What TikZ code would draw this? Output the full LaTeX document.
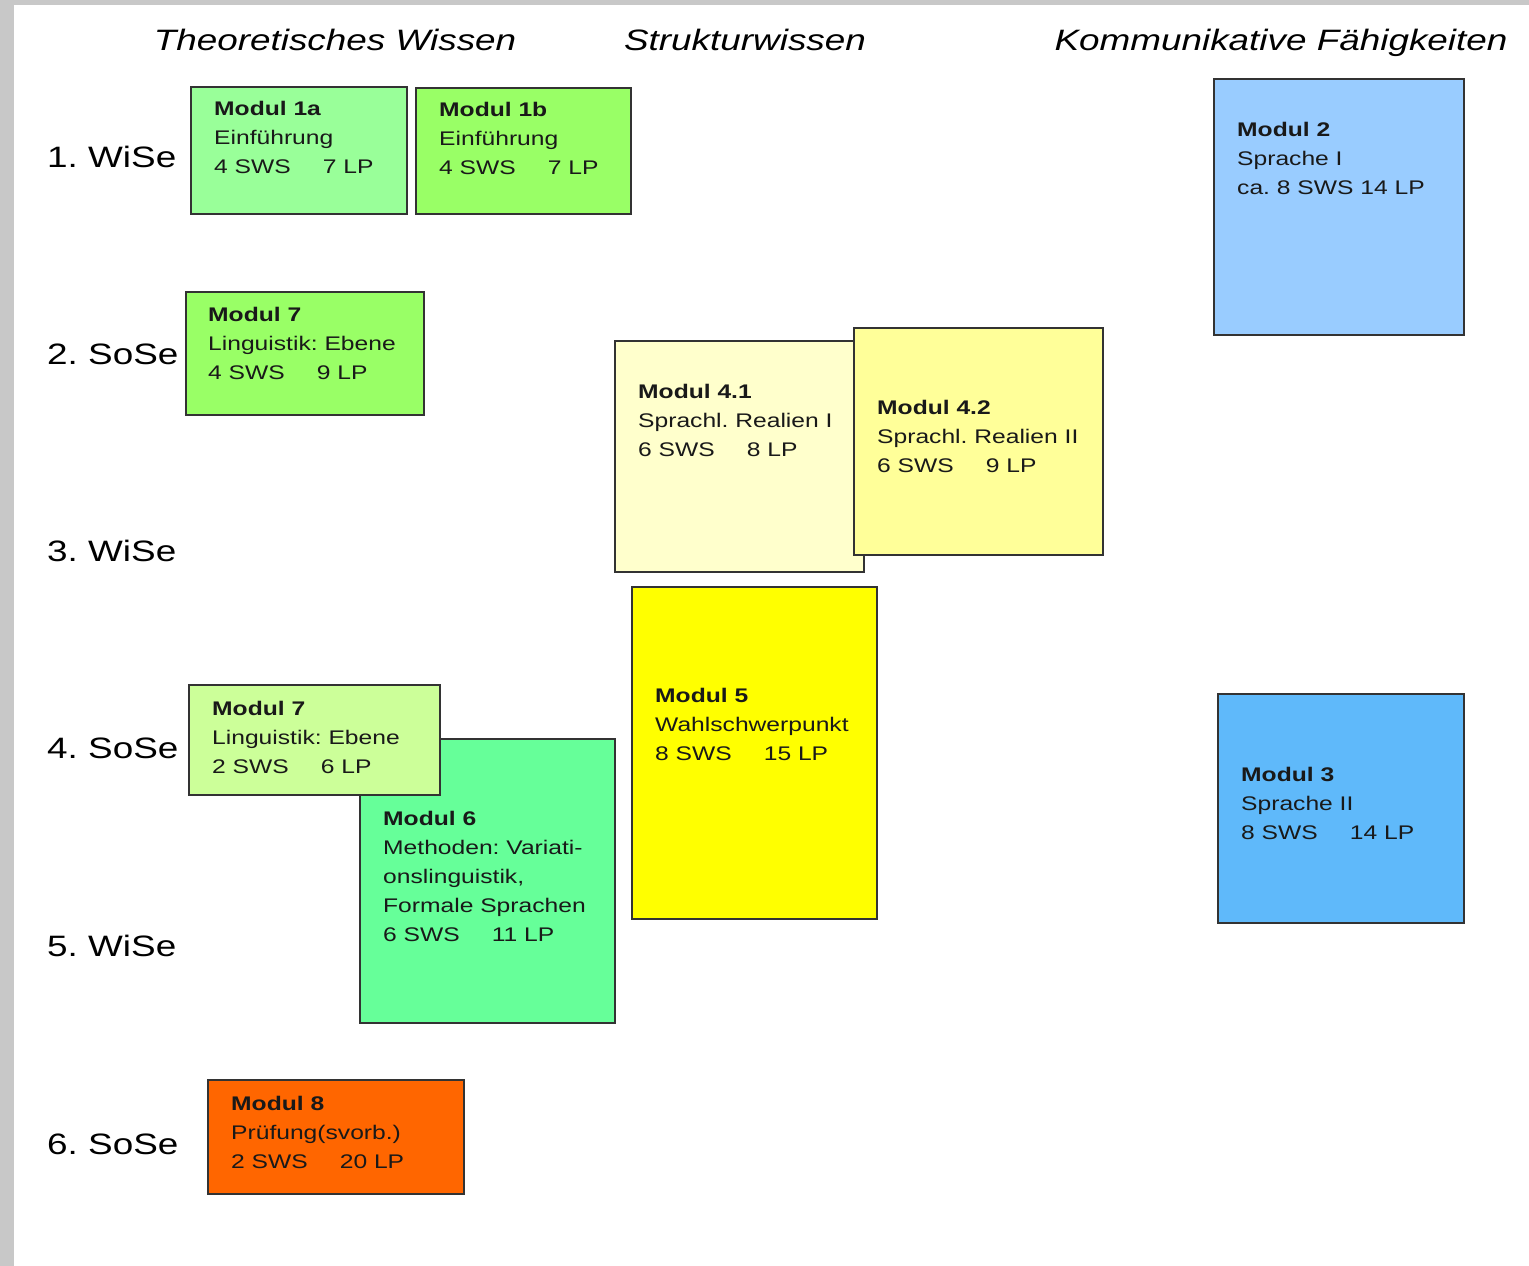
\documentclass[tikz,border=0pt]{standalone}
\usepackage{fontspec}
\setmainfont{Liberation Sans}[FakeStretch=1.25]
\usepackage{tikz}
\usetikzlibrary{positioning}
\definecolor{randgrau}{RGB}{200,200,200}
\definecolor{gruenA}{RGB}{153,255,153}
\definecolor{gruenB}{RGB}{153,255,102}
\definecolor{gruenC}{RGB}{204,255,153}
\definecolor{gruenD}{RGB}{102,255,153}
\definecolor{gelbA}{RGB}{255,255,204}
\definecolor{gelbB}{RGB}{255,255,153}
\definecolor{gelbC}{RGB}{255,255,0}
\definecolor{orange}{RGB}{255,102,0}
\definecolor{blauA}{RGB}{153,204,255}
\definecolor{blauB}{RGB}{95,185,250}
\tikzset{modul/.style={draw=black!80, line width=1.6pt, anchor=north west, inner sep=0pt},
  modtext/.style={anchor=north west, align=left, inner sep=0pt, text=black!90, font=\fontsize{19.7}{29}\selectfont},
  semester/.style={anchor=west, inner sep=0pt, font=\fontsize{29.5}{34}\selectfont},
  kopf/.style={anchor=base, inner sep=0pt, font=\fontsize{29.5}{34}\selectfont\itshape}}
\newcommand{\lpabst}{\hspace{32pt}}
\frenchspacing

\begin{document}
\begin{tikzpicture}[x=1pt, y=-1pt]
    \useasboundingbox (0,0) rectangle (1529,1266);
    \fill [randgrau] (0,0) rectangle (1529,5);
    \fill [randgrau] (0,0) rectangle (14,1266);
    % Spaltenkoepfe
    \node [kopf] (k1) at (335,50) {Theoretisches Wissen};
    \node [kopf] (k2) at (745,50) {Strukturwissen};
    \node [kopf] (k3) at (1281,50) {Kommunikative Fähigkeiten};
    % Semester
    \node [semester] (s1) at (47,157) {1. WiSe};
    \node [semester] (s2) at (47,354) {2. SoSe};
    \node [semester] (s3) at (47,551) {3. WiSe};
    \node [semester] (s4) at (47,748) {4. SoSe};
    \node [semester] (s5) at (47,946) {5. WiSe};
    \node [semester] (s6) at (47,1144) {6. SoSe};
    % Module
    \node [modul, fill=gruenA, minimum width=216pt, minimum height=127pt] (m1a) at (190,86) {};
    \node [modtext] (t1a) at (214,101) {\textbf{Modul 1a}\\Einführung\\4 SWS\lpabst 7 LP};
    \node [modul, fill=gruenB, minimum width=215pt, minimum height=126pt] (m1b) at (415,87) {};
    \node [modtext] (t1b) at (439,102) {\textbf{Modul 1b}\\Einführung\\4 SWS\lpabst 7 LP};
    \node [modul, fill=gruenB, minimum width=238pt, minimum height=123pt] (m7a) at (185,291) {};
    \node [modtext] (t7a) at (208,307) {\textbf{Modul 7}\\Linguistik: Ebene\\4 SWS\lpabst 9 LP};
    \node [modul, fill=blauA, minimum width=250pt, minimum height=256pt] (m2) at (1213,78) {};
    \node [modtext] (t2) at (1237,122) {\textbf{Modul 2}\\Sprache I\\ca. 8 SWS 14 LP};
    \node [modul, fill=gelbA, minimum width=249pt, minimum height=231pt] (m41) at (614,340) {};
    \node [modtext] (t41) at (638,384) {\textbf{Modul 4.1}\\Sprachl. Realien I\\6 SWS\lpabst 8 LP};
    \node [modul, fill=gelbB, minimum width=249pt, minimum height=227pt] (m42) at (853,327) {};
    \node [modtext] (t42) at (877,400) {\textbf{Modul 4.2}\\Sprachl. Realien II\\6 SWS\lpabst 9 LP};
    \node [modul, fill=gelbC, minimum width=245pt, minimum height=332pt] (m5) at (631,586) {};
    \node [modtext] (t5) at (655,688) {\textbf{Modul 5}\\Wahlschwerpunkt\\8 SWS\lpabst 15 LP};
    \node [modul, fill=gruenD, minimum width=255pt, minimum height=284pt] (m6) at (359,738) {};
    \node [modtext] (t6) at (383,811) {\textbf{Modul 6}\\Methoden: Variati-\\onslinguistik,\\Formale Sprachen\\6 SWS\lpabst 11 LP};
    \node [modul, fill=gruenC, minimum width=251pt, minimum height=110pt] (m7b) at (188,684) {};
    \node [modtext] (t7b) at (212,701) {\textbf{Modul 7}\\Linguistik: Ebene\\2 SWS\lpabst 6 LP};
    \node [modul, fill=blauB, minimum width=246pt, minimum height=229pt] (m3) at (1217,693) {};
    \node [modtext] (t3) at (1241,767) {\textbf{Modul 3}\\Sprache II\\8 SWS\lpabst 14 LP};
    \node [modul, fill=orange, minimum width=256pt, minimum height=114pt] (m8) at (207,1079) {};
    \node [modtext] (t8) at (231,1096) {\textbf{Modul 8}\\Prüfung(svorb.)\\2 SWS\lpabst 20 LP};
\end{tikzpicture}
\end{document}
